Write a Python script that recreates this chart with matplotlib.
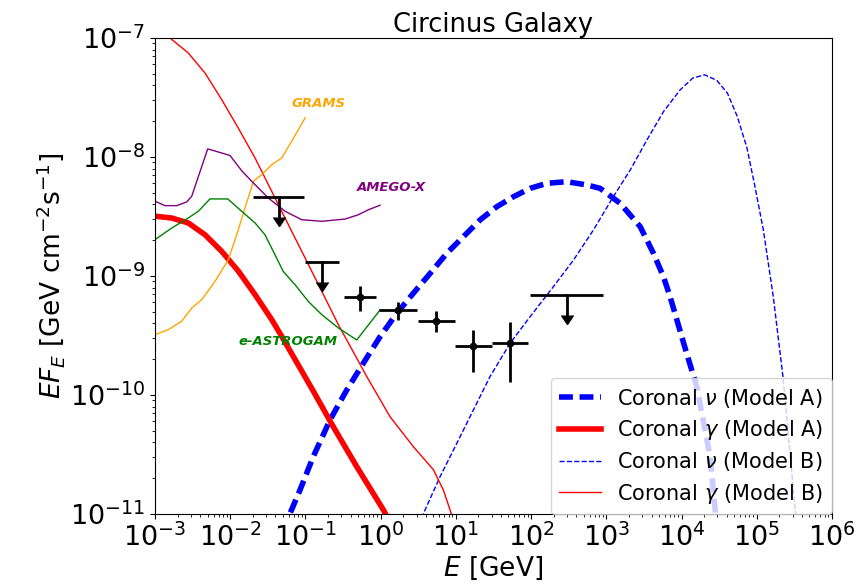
import numpy as np
import matplotlib
matplotlib.use('Agg')
import matplotlib.pyplot as plt
from matplotlib.ticker import LogLocator, NullFormatter

# coronal gamma, model A (thick red)
gA_E = [1e-3, 1.67e-3, 2.77e-3, 4.62e-3, 7.71e-3, 1.28e-2, 2.14e-2, 3.56e-2, 4.84e-2,
        0.127, 0.235, 0.481, 1.09, 1.33]
gA_F = [3.18e-9, 3.07e-9, 2.79e-9, 2.22e-9, 1.61e-9, 1.10e-9, 6.97e-10, 4.30e-10, 3.11e-10,
        1.08e-10, 5.4e-11, 2.5e-11, 1.08e-11, 8.5e-12]

# coronal gamma, model B (thin red)
gB_E = [1e-3, 1.58e-3, 2.77e-3, 4.62e-3, 7.71e-3, 1.28e-2, 2.14e-2, 3.56e-2, 5.93e-2,
        9.89e-2, 0.165, 0.274, 0.653, 1.33, 2.72, 5.04, 6.82, 8.38, 9.8]
gB_F = [1.15e-7, 1.0e-7, 7.48e-8, 5.08e-8, 3.03e-8, 1.75e-8, 9.8e-9, 5.15e-9, 2.70e-9,
        1.42e-9, 7.43e-10, 3.90e-10, 1.43e-10, 6.58e-11, 3.68e-11, 2.35e-11, 1.59e-11, 1.08e-11, 8e-12]

# coronal neutrino, model A (thick blue dashed)
nA_E = [5.4e-2, 6.24e-2, 8.47e-2, 0.127, 0.212, 0.354, 0.589, 0.982, 1.64, 2.72, 4.54,
        7.57, 12.6, 21.0, 35.0, 58.2, 97.1, 162, 299, 551, 828, 1530, 2820, 4240,
        5750, 7050, 1.17e4, 1.6e4, 2.4e4, 2.8e4, 2.95e4]
nA_F = [7e-12, 1.01e-11, 1.59e-11, 3.03e-11, 6.16e-11, 1.10e-10, 1.85e-10, 3.09e-10, 4.86e-10,
        7.16e-10, 1.05e-9, 1.55e-9, 2.14e-9, 2.96e-9, 3.82e-9, 4.63e-9, 5.45e-9, 6.01e-9, 6.20e-9,
        5.82e-9, 5.45e-9, 4.08e-9, 2.60e-9, 1.55e-9, 9.87e-10, 6.70e-10, 2.24e-10, 1.17e-10,
        3.03e-11, 1.08e-11, 7e-12]

# coronal neutrino, model B (thin blue dashed)
nB_E = [3.3, 3.71, 6.17, 10.3, 17.1, 28.5, 52.6, 97.1, 198, 366, 676, 1230, 2090, 3470,
        5750, 9550, 1.41e4, 2.04e4, 2.95e4, 4.07e4, 5.5e4, 7.4e4, 9.5e4, 1.23e5, 1.66e5,
        2.24e5, 3.24e5, 3.7e5]
nB_F = [6e-12, 1.01e-11, 2.06e-11, 3.93e-11, 7.48e-11, 1.43e-10, 2.72e-10, 4.55e-10, 8.13e-10,
        1.36e-9, 2.44e-9, 4.6e-9, 7.8e-9, 1.39e-8, 2.4e-8, 3.65e-8, 4.6e-8, 4.9e-8, 4.4e-8,
        3.45e-8, 2.2e-8, 1.2e-8, 5.6e-9, 2.4e-9, 6.7e-10, 1.4e-10, 1.1e-11, 6e-12]

# sensitivity curves
grams_E = [1e-3, 1.5e-3, 2.26e-3, 3.08e-3, 4.18e-3, 6.28e-3, 9.44e-3, 1.22e-2, 1.57e-2,
           2.04e-2, 2.62e-2, 3.56e-2, 4.84e-2, 6.58e-2, 9.89e-2]
grams_F = [3.21e-10, 3.54e-10, 4.16e-10, 5.38e-10, 6.32e-10, 9.02e-10, 1.37e-9, 2.22e-9, 3.72e-9,
           6.25e-9, 7.10e-9, 8.61e-9, 9.81e-9, 1.36e-8, 2.13e-8]

amego_E = [1e-3, 1.36e-3, 1.95e-3, 2.64e-3, 3.08e-3, 5.02e-3, 9.93e-3, 1.42e-2, 1.93e-2,
           3.21e-2, 5.36e-2, 8.93e-2, 0.165, 0.337, 0.505, 0.686, 0.982]
amego_F = [4.25e-9, 3.90e-9, 3.90e-9, 4.19e-9, 4.68e-9, 1.17e-8, 1.03e-8, 7.67e-9, 6.25e-9,
           4.52e-9, 3.50e-9, 2.97e-9, 2.88e-9, 3.01e-9, 3.27e-9, 3.60e-9, 3.93e-9]

astro_E = [1e-3, 1.67e-3, 2.77e-3, 3.77e-3, 5.38e-3, 9.27e-3, 1.42e-2, 2.14e-2, 2.9e-2,
           3.74e-2, 5.08e-2, 7.28e-2, 0.109, 0.165, 0.274, 0.481, 0.982]
astro_F = [2.02e-9, 2.53e-9, 3.07e-9, 3.50e-9, 4.44e-9, 4.44e-9, 3.50e-9, 2.79e-9, 2.22e-9,
           1.61e-9, 1.09e-9, 8.45e-10, 6.12e-10, 4.73e-10, 3.66e-10, 2.90e-10, 5.18e-10]

# data points: energy, half bin width in log10, flux and its range
pts_E = [0.53, 1.7, 5.5, 17.0, 53.0]
pts_logw = [0.21, 0.25, 0.245, 0.245, 0.24]
pts_F = [6.7e-10, 5.2e-10, 4.2e-10, 2.58e-10, 2.74e-10]
pts_Fhi = [8.3e-10, 6.0e-10, 5.1e-10, 3.5e-10, 4.1e-10]
pts_Flo = [5.1e-10, 4.3e-10, 3.4e-10, 1.55e-10, 1.28e-10]

# upper limits
ul_E = [0.044, 0.166, 300.0]
ul_logw = [0.34, 0.23, 0.485]
ul_F = [4.6e-9, 1.3e-9, 6.9e-10]

fig = plt.figure(figsize=(8.63, 5.87), dpi=100)
ax = fig.add_axes([0.1796, 0.1244, 0.7844, 0.8109])

ax.plot(nA_E, nA_F, color='blue', lw=4, ls=(0, (2.5, 1.2)), label=r'Coronal $\nu$ (Model A)')
ax.plot(gA_E, gA_F, color='red', lw=4, label=r'Coronal $\gamma$ (Model A)')
ax.plot(nB_E, nB_F, color='blue', lw=1, ls='--', label=r'Coronal $\nu$ (Model B)')
ax.plot(gB_E, gB_F, color='red', lw=1, label=r'Coronal $\gamma$ (Model B)')

ax.plot(grams_E, grams_F, color='orange', lw=1)
ax.plot(amego_E, amego_F, color='purple', lw=1)
ax.plot(astro_E, astro_F, color='green', lw=1)

ax.text(0.15, 2.8e-8, 'GRAMS', color='orange', fontsize=9.5, fontweight='bold', style='italic', ha='center', va='center')
ax.text(1.4, 5.5e-9, 'AMEGO-X', color='purple', fontsize=9.5, fontweight='bold', style='italic', ha='center', va='center')
ax.text(0.059, 2.8e-10, 'e-ASTROGAM', color='green', fontsize=9.5, fontweight='bold', style='italic', ha='center', va='center')

pts_E = np.array(pts_E)
pts_F = np.array(pts_F)
w = np.array(pts_logw)
xerr = [pts_E - pts_E / 10**w, pts_E * 10**w - pts_E]
yerr = [pts_F - np.array(pts_Flo), np.array(pts_Fhi) - pts_F]
ax.errorbar(pts_E, pts_F, xerr=xerr, yerr=yerr, fmt='o', color='k', ms=4.5, elinewidth=2, capsize=0)

ul_E = np.array(ul_E)
ul_F = np.array(ul_F)
uw = np.array(ul_logw)
ax.errorbar(ul_E, ul_F, xerr=[ul_E - ul_E / 10**uw, ul_E * 10**uw - ul_E], fmt='none', ecolor='k', elinewidth=2, capsize=0)
for e, f in zip(ul_E, ul_F):
    ax.plot([e, e], [f, f * 0.68], color='k', lw=2)
    ax.plot(e, f * 0.68, marker=11, color='k', ms=9, ls='none')

ax.set_xscale('log')
ax.set_yscale('log')
ax.set_xlim(1e-3, 1e6)
ax.set_ylim(1e-11, 1e-7)
ax.xaxis.set_major_locator(LogLocator(base=10, numticks=20))
ax.xaxis.set_minor_locator(LogLocator(base=10, subs=np.arange(2, 10), numticks=100))
ax.xaxis.set_minor_formatter(NullFormatter())
ax.yaxis.set_major_locator(LogLocator(base=10, numticks=20))
ax.yaxis.set_minor_locator(LogLocator(base=10, subs=np.arange(2, 10), numticks=100))
ax.yaxis.set_minor_formatter(NullFormatter())
ax.tick_params(labelsize=19.5)

ax.set_xlabel(r'$E$ [GeV]', fontsize=19, labelpad=2)
ax.set_ylabel(r'$EF_E$ [GeV cm$^{-2}$s$^{-1}$]', fontsize=19, labelpad=2)
ax.set_title('Circinus Galaxy', fontsize=18.5, pad=3)
ax.legend(loc='lower right', fontsize=15, borderaxespad=0, labelspacing=0.4)

fig.savefig('out.png', dpi=100)
